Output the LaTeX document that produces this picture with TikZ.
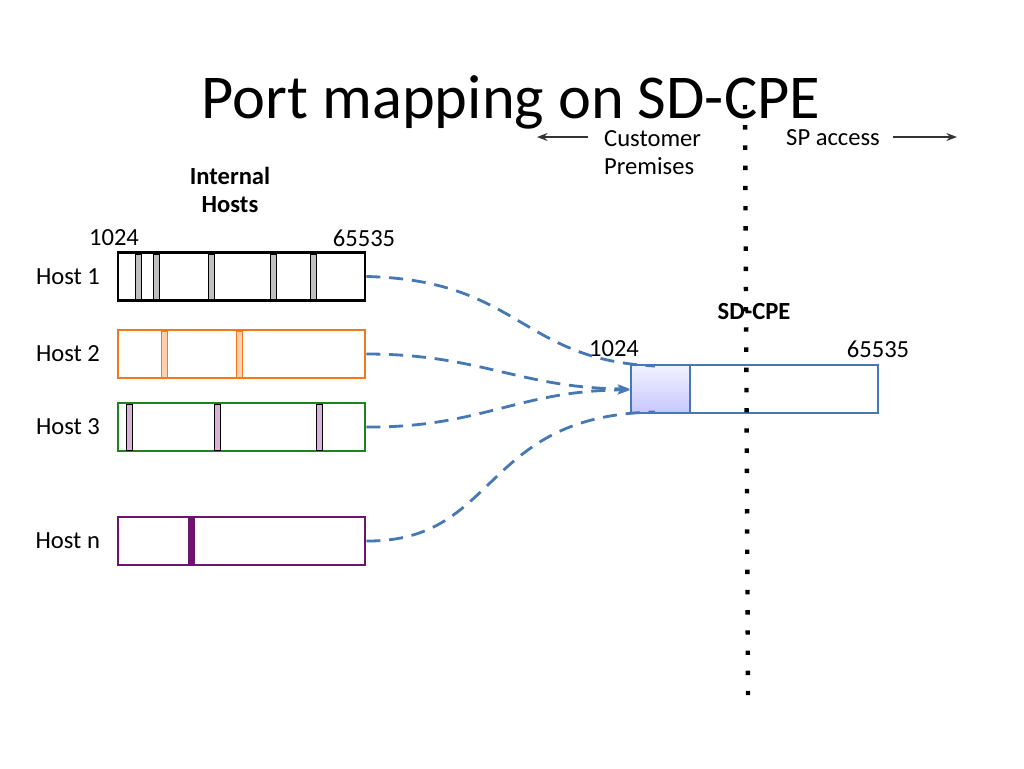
\documentclass[tikz,border=0pt]{standalone}
\usepackage{fontspec}
\setmainfont{Carlito}
\usetikzlibrary{positioning,arrows.meta}
\definecolor{hostorange}{RGB}{240,120,30}
\definecolor{hostgreen}{RGB}{30,130,30}
\definecolor{hostpurple}{RGB}{110,20,110}
\definecolor{linkblue}{RGB}{70,120,180}
\tikzset{
  bar/.style={minimum width=4.94cm, minimum height=0.96cm, line width=1.5pt, inner sep=0pt},
  slot/.style={line width=0.4pt},
  link/.style={linkblue, line width=1.6pt, dash pattern=on 8pt off 5pt},
  lbl/.style={font=\fontsize{14}{16}\selectfont}
}
\begin{document}
\begin{tikzpicture}[x=0.02cm, y=-0.02cm]
\useasboundingbox (0,0) rectangle (1024,768);

\node[font=\fontsize{35.5}{38}\selectfont] (title) at (511,102) {Port mapping on SD-CPE};

%hosts
\node[bar, draw=black] (h1) at (241.5,276.5) {};
\node[bar, draw=hostorange] (h2) at (241.5,354) {};
\node[bar, draw=hostgreen] (h3) at (241.5,427) {};
\node[bar, draw=hostpurple] (hn) at (241.5,541) {};

\foreach \x in {135,153,208,270,310}
{\draw[slot, fill=gray!50] (\x,254) rectangle (\x+6,299);}
\foreach \x in {161,236}
{\draw[slot, draw=hostorange, fill=hostorange!35] (\x,331) rectangle (\x+6,377);}
\foreach \x in {126,214,316}
{\draw[slot, fill=violet!30] (\x,404) rectangle (\x+6,450);}
\fill[hostpurple] (188,518) rectangle (195,564);

\node[lbl, left=6pt of h1] (l1) {Host 1};
\node[lbl, left=6pt of h2] (l2) {Host 2};
\node[lbl, left=6pt of h3] (l3) {Host 3};
\node[lbl, left=6pt of hn] (ln) {Host n};
\node[lbl] (lo) at (114,238) {1024};
\node[lbl] (hi) at (364,238) {65535};
\node[lbl, font=\bfseries\fontsize{14}{16}\selectfont, align=center] (ih) at (230,190) {Internal\\Hosts};

%sd-cpe
\node[bar, draw=linkblue] (cpe) at (754.5,389) {};
\draw[linkblue, line width=1pt, top color=blue!5, bottom color=blue!22] (631,365) rectangle (690,413);
\node[lbl] (clo) at (614,349) {1024};
\node[lbl] (chi) at (878,349) {65535};
\node[lbl, font=\bfseries\fontsize{14}{16}\selectfont] (cl) at (754,312) {SD-CPE};

%boundary
\coordinate (btop) at (745,105);
\coordinate (bbot) at (748,695);
\draw[line width=2.5pt, dash pattern=on 2.5pt off 9pt] (btop) -- (bbot);
\node[lbl, align=left, anchor=west] (cp) at (598,153) {Customer\\Premises};
\node[lbl, anchor=west] (sp) at (780,138) {SP access};
\coordinate (ca) at (588,137);
\coordinate (cb) at (537,137);
\coordinate (sa) at (893,137);
\coordinate (sb) at (957,137);
\draw[-{Stealth[length=6pt]}, line width=1.5pt, black!80] (ca) -- (cb);
\draw[-{Stealth[length=6pt]}, line width=1.5pt, black!80] (sa) -- (sb);

%links
\draw[link] (h1.east) .. controls (520,280) and (520,360) .. (655,366);
\draw[link, -{Stealth[length=7pt]}] (h2.east) .. controls (480,354) and (520,388) .. (630,389);
\draw[link, -{Stealth[length=7pt]}] (h3.east) .. controls (480,428) and (520,390) .. (630,390);
\draw[link] (hn.east) .. controls (500,542) and (480,415) .. (655,412);
\end{tikzpicture}
\end{document}
